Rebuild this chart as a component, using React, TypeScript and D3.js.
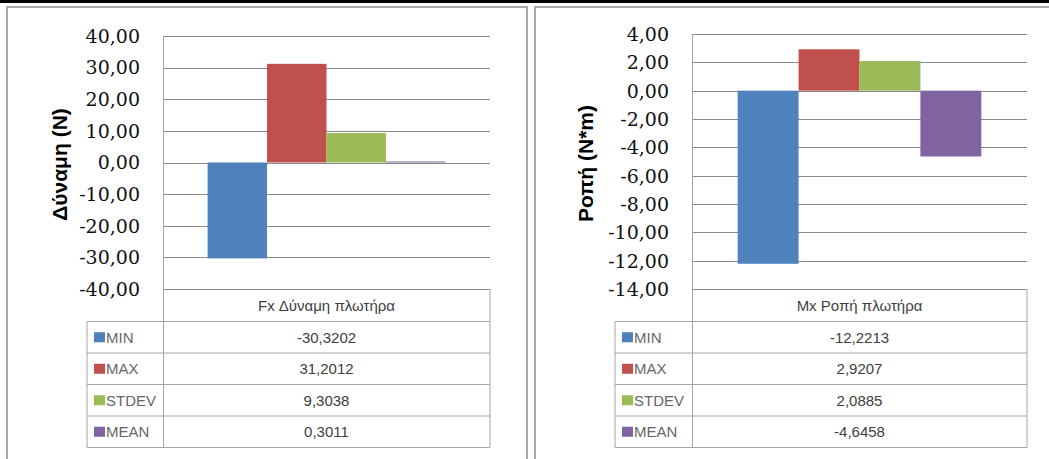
import * as d3 from "d3";
import React from "react";

// series (same order in both charts)
const seriesNames = ["MIN", "MAX", "STDEV", "MEAN"];
const seriesColors = ["#4F81BD", "#C0504D", "#9BBB59", "#8064A2"];

// left chart: Fx
const forceCategory = "Fx Δύναμη πλωτήρα";
const forceValues = [-30.3202, 31.2012, 9.3038, 0.3011];
const forceLabels = ["-30,3202", "31,2012", "9,3038", "0,3011"];
const forceTicks = [40, 30, 20, 10, 0, -10, -20, -30, -40];

// right chart: Mx
const momentCategory = "Mx Ροπή πλωτήρα";
const momentValues = [-12.2213, 2.9207, 2.0885, -4.6458];
const momentLabels = ["-12,2213", "2,9207", "2,0885", "-4,6458"];
const momentTicks = [4, 2, 0, -2, -4, -6, -8, -10, -12, -14];

const fmt = (v: number) => v.toFixed(2).replace(".", ",");

interface IPanelProps {
  frameX: number;
  frameW: number;
  plotLeft: number;
  plotRight: number;
  plotTop: number;
  plotBottom: number;
  legendLeft: number;
  titleX: number;
  title: string;
  category: string;
  values: number[];
  labels: string[];
  ticks: number[];
}

var rowH = 31.5;
var headerH = 32.5;

function Panel(p: IPanelProps) {
  const y = d3
    .scaleLinear()
    .domain([d3.min(p.ticks) as number, d3.max(p.ticks) as number])
    .range([p.plotBottom, p.plotTop]);
  const x = d3
    .scaleBand()
    .domain(seriesNames)
    .range([p.plotLeft, p.plotRight])
    .paddingInner(0)
    .paddingOuter(0.75);

  const tableTop = p.plotBottom;
  const rowsTop = tableTop + headerH;
  const tableBottom = rowsTop + rowH * seriesNames.length;
  const midX = (p.plotLeft + p.plotRight) / 2;
  const gridCol = "#8a8a8a";
  const tableCol = "#a6a6a6";

  return (
    <g>
      {/* chart frame */}
      <rect
        x={p.frameX}
        y={7}
        width={p.frameW}
        height={480}
        fill="#fff"
        stroke="#a8a8a8"
        strokeWidth={2}
      />
      {/* gridlines */}
      {p.ticks.map((t) => (
        <line
          key={t}
          x1={p.plotLeft}
          x2={p.plotRight}
          y1={Math.round(y(t)) + 0.5}
          y2={Math.round(y(t)) + 0.5}
          stroke={gridCol}
          strokeWidth={1}
        />
      ))}
      {/* bars */}
      {p.values.map((v, i) => (
        <rect
          key={seriesNames[i]}
          x={x(seriesNames[i])}
          width={x.bandwidth()}
          y={y(Math.max(0, v))}
          height={Math.max(1, Math.abs(y(v) - y(0)))}
          fill={seriesColors[i]}
        />
      ))}
      {/* value axis line */}
      <line
        x1={p.plotLeft + 0.5}
        x2={p.plotLeft + 0.5}
        y1={p.plotTop}
        y2={tableBottom}
        stroke={tableCol}
      />
      {/* tick labels */}
      {p.ticks.map((t) => (
        <text
          key={"l" + t}
          x={p.plotLeft - 23}
          y={y(t)}
          dy="0.36em"
          textAnchor="end"
          fontFamily="DejaVu Serif"
          fontSize={19}
          fill="#111"
        >
          {fmt(t)}
        </text>
      ))}
      {/* axis title */}
      <text
        transform={`translate(${p.titleX},${(p.plotTop + p.plotBottom) / 2 + 2}) rotate(-90)`}
        textAnchor="middle"
        dy="0.35em"
        fontFamily="Liberation Sans"
        fontWeight="bold"
        fontSize={21}
        fill="#000"
      >
        {p.title}
      </text>
      {/* data table */}
      <line x1={p.plotRight} x2={p.plotRight} y1={tableTop} y2={tableBottom} stroke={tableCol} />
      <line x1={p.legendLeft} x2={p.legendLeft} y1={rowsTop} y2={tableBottom} stroke={tableCol} />
      <line x1={p.legendLeft} x2={p.plotRight} y1={tableBottom} y2={tableBottom} stroke={tableCol} />
      {seriesNames.map((s, i) => (
        <line
          key={"r" + s}
          x1={p.legendLeft}
          x2={p.plotRight}
          y1={rowsTop + rowH * i}
          y2={rowsTop + rowH * i}
          stroke={tableCol}
        />
      ))}
      <text
        x={midX}
        y={tableTop + headerH / 2}
        dy="0.35em"
        textAnchor="middle"
        fontFamily="Liberation Sans"
        fontSize={15}
        fill="#404040"
      >
        {p.category}
      </text>
      {seriesNames.map((s, i) => (
        <g key={"t" + s}>
          <rect
            x={p.legendLeft + 7}
            y={rowsTop + rowH * i + rowH / 2 - 5}
            width={11}
            height={10}
            fill={seriesColors[i]}
          />
          <text
            x={p.legendLeft + 19}
            y={rowsTop + rowH * i + rowH / 2}
            dy="0.35em"
            fontFamily="Liberation Sans"
            fontSize={15}
            fill="#666"
          >
            {s}
          </text>
          <text
            x={midX}
            y={rowsTop + rowH * i + rowH / 2}
            dy="0.35em"
            textAnchor="middle"
            fontFamily="Liberation Sans"
            fontSize={15}
            fill="#404040"
          >
            {p.labels[i]}
          </text>
        </g>
      ))}
    </g>
  );
}

export default function App() {
  return (
    <div style={{ position: "absolute", left: 0, top: 0 }}>
      <svg width={1049} height={459} style={{ display: "block" }}>
        <rect width={1049} height={459} fill="#fff" />
        <Panel
          frameX={7}
          frameW={520}
          plotLeft={163}
          plotRight={490}
          plotTop={36}
          plotBottom={289}
          legendLeft={87}
          titleX={60}
          title="Δύναμη (N)"
          category={forceCategory}
          values={forceValues}
          labels={forceLabels}
          ticks={forceTicks}
        />
        <Panel
          frameX={535}
          frameW={540}
          plotLeft={692}
          plotRight={1027}
          plotTop={34}
          plotBottom={289}
          legendLeft={615}
          titleX={586}
          title="Ροπή (N*m)"
          category={momentCategory}
          values={momentValues}
          labels={momentLabels}
          ticks={momentTicks}
        />
        {/* outer border of the page table */}
        <rect x={0} y={0} width={1049} height={3} fill="#000" />
      </svg>
    </div>
  );
}
